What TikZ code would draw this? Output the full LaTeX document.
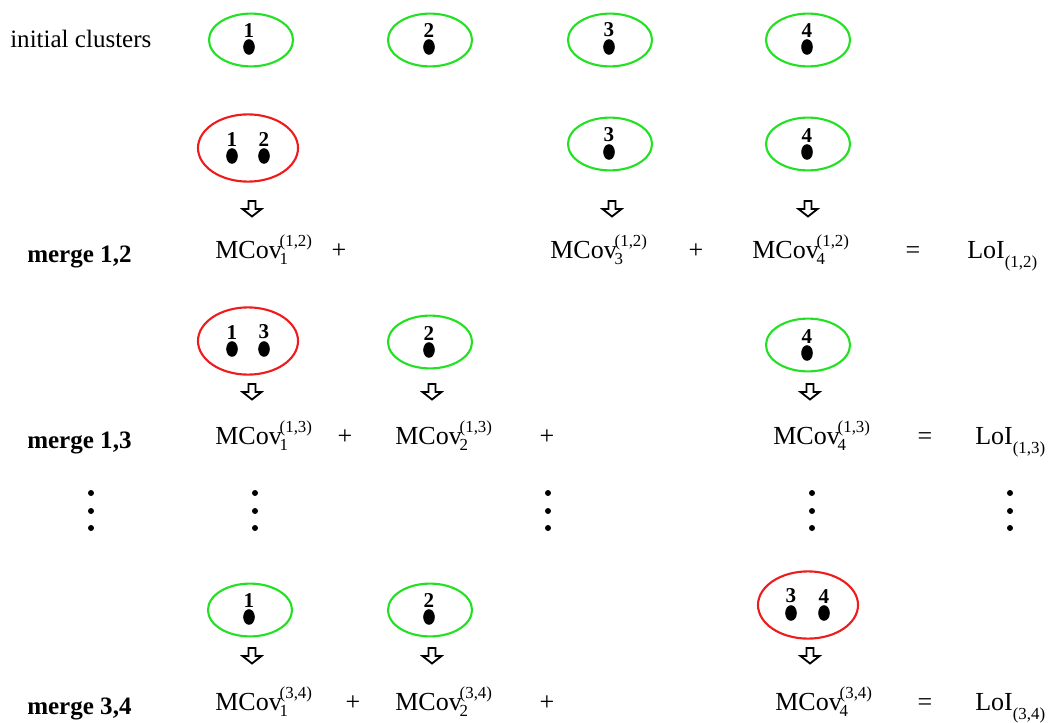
\documentclass[tikz,border=0pt]{standalone}
\usepackage{fontspec}
\setmainfont{Liberation Serif}
\usetikzlibrary{shapes.geometric,positioning}
\definecolor{single}{HTML}{22E022}
\definecolor{merged}{HTML}{EE1C1C}
\newcommand{\subsz}{\fontsize{12}{13}\selectfont}
\newcommand{\mcov}[2]{MCov\kern-0.08em\rlap{\raisebox{-0.25em}{\subsz #1}}\raisebox{0.45em}{\subsz #2}}
\newcommand{\loi}[1]{LoI\raisebox{-0.38em}{\subsz #1}}

\begin{document}
\begin{tikzpicture}[x=0.025cm, y=-0.025cm,
    txt/.style={font=\fontsize{18.5}{20}\selectfont, inner sep=0pt, anchor=base west},
    op/.style={txt, anchor=base},
    lbl/.style={txt, font=\fontsize{17.8}{20}\selectfont\bfseries},
    num/.style={font=\fontsize{15}{16}\selectfont\bfseries, inner sep=0pt},
    pt/.style={ellipse, fill=black, inner sep=0pt, minimum width=0.29cm, minimum height=0.39cm},
    single/.style={ellipse, draw=single, line width=1.5pt, inner sep=0pt,
                   minimum width=2.1cm, minimum height=1.32cm},
    merged/.style={ellipse, draw=merged, line width=1.5pt, inner sep=0pt,
                   minimum width=2.5cm, minimum height=1.68cm},
    dnarrow/.pic={\draw[line width=1.3pt, line join=miter]
        (-3.5,-8) -- (3.5,-8) -- (3.5,0) -- (9.5,0) -- (0,7.5) -- (-9.5,0) -- (-3.5,0) -- cycle;}
  ]
    \useasboundingbox (0,0) rectangle (1049,722);

    % initial clusters
    \node[txt, font=\fontsize{17.8}{20}\selectfont] (init) at (10,48) {initial clusters};
    \node[single] (c1) at (251,40) {};
    \node[pt] (c1p) at (249,47) {};
    \node[num, above=0.4mm of c1p] (c1n) {1};
    \node[single] (c2) at (430,40) {};
    \node[pt] (c2p) at (429,47) {};
    \node[num, above=0.4mm of c2p] (c2n) {2};
    \node[single] (c3) at (610,40) {};
    \node[pt] (c3p) at (609,47) {};
    \node[num, above=0.4mm of c3p] (c3n) {3};
    \node[single] (c4) at (808,40) {};
    \node[pt] (c4p) at (807,47) {};
    \node[num, above=0.4mm of c4p] (c4n) {4};

    % merge 1,2
    \node[merged] (m12) at (248,148) {};
    \node[pt] (m12a) at (232,156) {};
    \node[num, above=0.4mm of m12a] (m12an) {1};
    \node[pt] (m12b) at (264,156) {};
    \node[num, above=0.4mm of m12b] (m12bn) {2};
    \node[single] (s12c) at (610,144) {};
    \node[pt] (s12cp) at (609,152) {};
    \node[num, above=0.4mm of s12cp] (s12cn) {3};
    \node[single] (s12d) at (808,144) {};
    \node[pt] (s12dp) at (807,152) {};
    \node[num, above=0.4mm of s12dp] (s12dn) {4};
    \pic at (252,209) {dnarrow};
    \pic at (612,209) {dnarrow};
    \pic at (808,209) {dnarrow};
    \node[lbl] (r12) at (27,262) {merge 1,2};
    \node[txt] (t12a) at (215,258) {\mcov{1}{(1,2)}};
    \node[op] (p12a) at (339,258) {+};
    \node[txt] (t12c) at (550,258) {\mcov{3}{(1,2)}};
    \node[op] (p12b) at (696,258) {+};
    \node[txt] (t12d) at (752,258) {\mcov{4}{(1,2)}};
    \node[op] (e12) at (913,258) {=};
    \node[txt] (l12) at (967,258) {\loi{(1,2)}};

    % merge 1,3
    \node[merged] (m13) at (248,341) {};
    \node[pt] (m13a) at (232,349) {};
    \node[num, above=0.4mm of m13a] (m13an) {1};
    \node[pt] (m13b) at (264,349) {};
    \node[num, above=0.4mm of m13b] (m13bn) {3};
    \node[single] (s13b) at (430,342) {};
    \node[pt] (s13bp) at (429,350) {};
    \node[num, above=0.4mm of s13bp] (s13bn) {2};
    \node[single] (s13d) at (808,345) {};
    \node[pt] (s13dp) at (807,353) {};
    \node[num, above=0.4mm of s13dp] (s13dn) {4};
    \pic at (252,392) {dnarrow};
    \pic at (432,392) {dnarrow};
    \pic at (810,392) {dnarrow};
    \node[lbl] (r13) at (27,448) {merge 1,3};
    \node[txt] (t13a) at (215,444) {\mcov{1}{(1,3)}};
    \node[op] (p13a) at (345,444) {+};
    \node[txt] (t13b) at (395,444) {\mcov{2}{(1,3)}};
    \node[op] (p13b) at (547,444) {+};
    \node[txt] (t13d) at (773,444) {\mcov{4}{(1,3)}};
    \node[op] (e13) at (925,444) {=};
    \node[txt] (l13) at (975,444) {\loi{(1,3)}};

    % vertical dots
    \foreach \x in {91,255,548,812,1010}
      \foreach \y in {493,511,528}
        \fill (\x,\y) circle (0.075cm);

    % merge 3,4
    \node[single] (s34a) at (250,610) {};
    \node[pt] (s34ap) at (249,617) {};
    \node[num, above=0.4mm of s34ap] (s34an) {1};
    \node[single] (s34b) at (430,610) {};
    \node[pt] (s34bp) at (429,617) {};
    \node[num, above=0.4mm of s34bp] (s34bn) {2};
    \node[merged] (m34) at (808,605) {};
    \node[pt] (m34a) at (791,613) {};
    \node[num, above=0.4mm of m34a] (m34an) {3};
    \node[pt] (m34b) at (824,613) {};
    \node[num, above=0.4mm of m34b] (m34bn) {4};
    \pic at (252,656) {dnarrow};
    \pic at (432,656) {dnarrow};
    \pic at (810,656) {dnarrow};
    \node[lbl] (r34) at (27,714) {merge 3,4};
    \node[txt] (t34a) at (215,710) {\mcov{1}{(3,4)}};
    \node[op] (p34a) at (353,710) {+};
    \node[txt] (t34b) at (395,710) {\mcov{2}{(3,4)}};
    \node[op] (p34b) at (547,710) {+};
    \node[txt] (t34d) at (775,710) {\mcov{4}{(3,4)}};
    \node[op] (e34) at (925,710) {=};
    \node[txt] (l34) at (975,710) {\loi{(3,4)}};
  \end{tikzpicture}
\end{document}
